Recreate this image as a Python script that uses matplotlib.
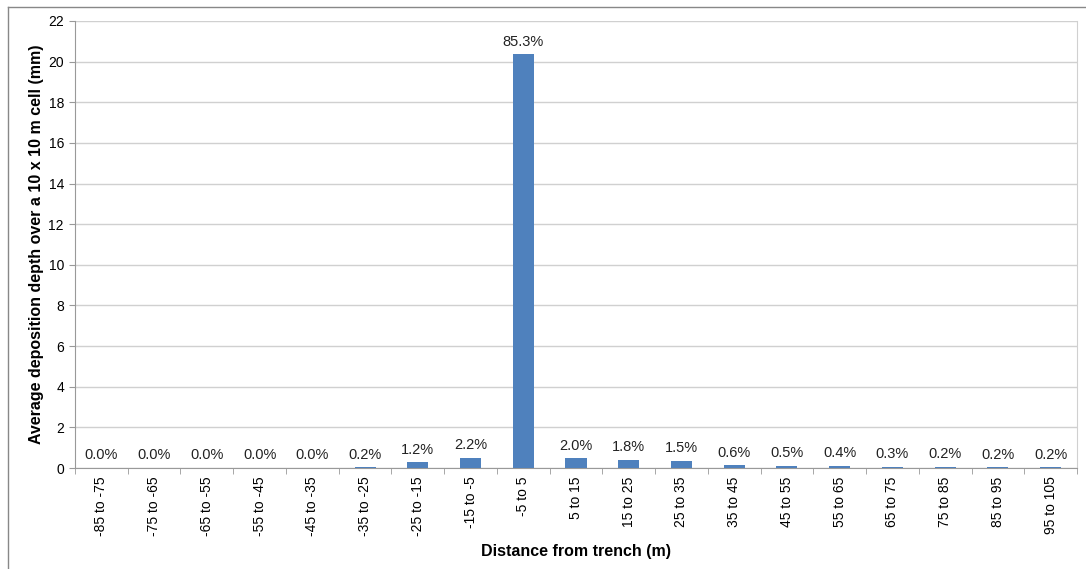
import matplotlib
matplotlib.use("Agg")
import matplotlib.pyplot as plt
from matplotlib.lines import Line2D

plt.rcParams['font.family'] = ['Liberation Sans', 'DejaVu Sans']

# Distance bins from trench (m)
categories = ["-85 to -75", "-75 to -65", "-65 to -55", "-55 to -45", "-45 to -35",
              "-35 to -25", "-25 to -15", "-15 to -5", "-5 to 5", "5 to 15",
              "15 to 25", "25 to 35", "35 to 45", "45 to 55", "55 to 65",
              "65 to 75", "75 to 85", "85 to 95", "95 to 105"]
# Average deposition depth (mm)
depths = [0.01, 0.01, 0.01, 0.01, 0.01, 0.04, 0.28, 0.50, 20.36, 0.47,
          0.41, 0.35, 0.14, 0.12, 0.10, 0.07, 0.05, 0.04, 0.04]
pct_labels = ["0.0%", "0.0%", "0.0%", "0.0%", "0.0%", "0.2%", "1.2%", "2.2%", "85.3%", "2.0%",
              "1.8%", "1.5%", "0.6%", "0.5%", "0.4%", "0.3%", "0.2%", "0.2%", "0.2%"]

fig = plt.figure(figsize=(10.86, 5.69), dpi=100)
ax = fig.add_axes([75 / 1086, 1 - 468 / 569, (1077 - 75) / 1086, (468 - 21) / 569])

x = list(range(len(categories)))
bars = ax.bar(x, depths, width=0.4, color="#4F81BD", zorder=3)
for rect, lab in zip(bars, pct_labels):
    ax.annotate(lab, (rect.get_x() + rect.get_width() / 2, rect.get_height()),
                xytext=(0, 4), textcoords="offset points", ha="center", va="bottom",
                fontsize=10.5, color="#222222")

ax.set_xlim(-0.5, len(categories) - 0.5)
ax.set_ylim(0, 22)
ax.set_yticks(range(0, 23, 2))
ax.set_xticks(x)
ax.set_xticklabels(categories, rotation=90, fontsize=10)
ax.set_xticks([i - 0.5 for i in range(len(categories) + 1)], minor=True)
ax.tick_params(axis="x", which="major", length=0, pad=6)
ax.tick_params(axis="x", which="minor", length=4, color="#999999")
ax.tick_params(axis="y", length=4, color="#999999", labelsize=10, pad=4)

ax.grid(axis="y", color="#d0d0d0", linewidth=1, zorder=0)
for side in ["left", "bottom"]:
    ax.spines[side].set_color("#999999")
ax.spines["right"].set_color("#d0d0d0")
ax.spines["top"].set_visible(False)

ax.set_xlabel("Distance from trench (m)", fontsize=11.5, fontweight="bold", labelpad=6)
ax.set_ylabel("Average deposition depth over a 10 x 10 m cell (mm)", fontsize=11.5,
              fontweight="bold", labelpad=3)

# outer chart frame (only left and top edges visible)
fig.add_artist(Line2D([8 / 1086, 8 / 1086], [0, 1 - 7 / 569], transform=fig.transFigure,
                      color="#888888", linewidth=1))
fig.add_artist(Line2D([8 / 1086, 1], [1 - 7 / 569, 1 - 7 / 569], transform=fig.transFigure,
                      color="#888888", linewidth=1))

fig.savefig("out.png", dpi=100)
